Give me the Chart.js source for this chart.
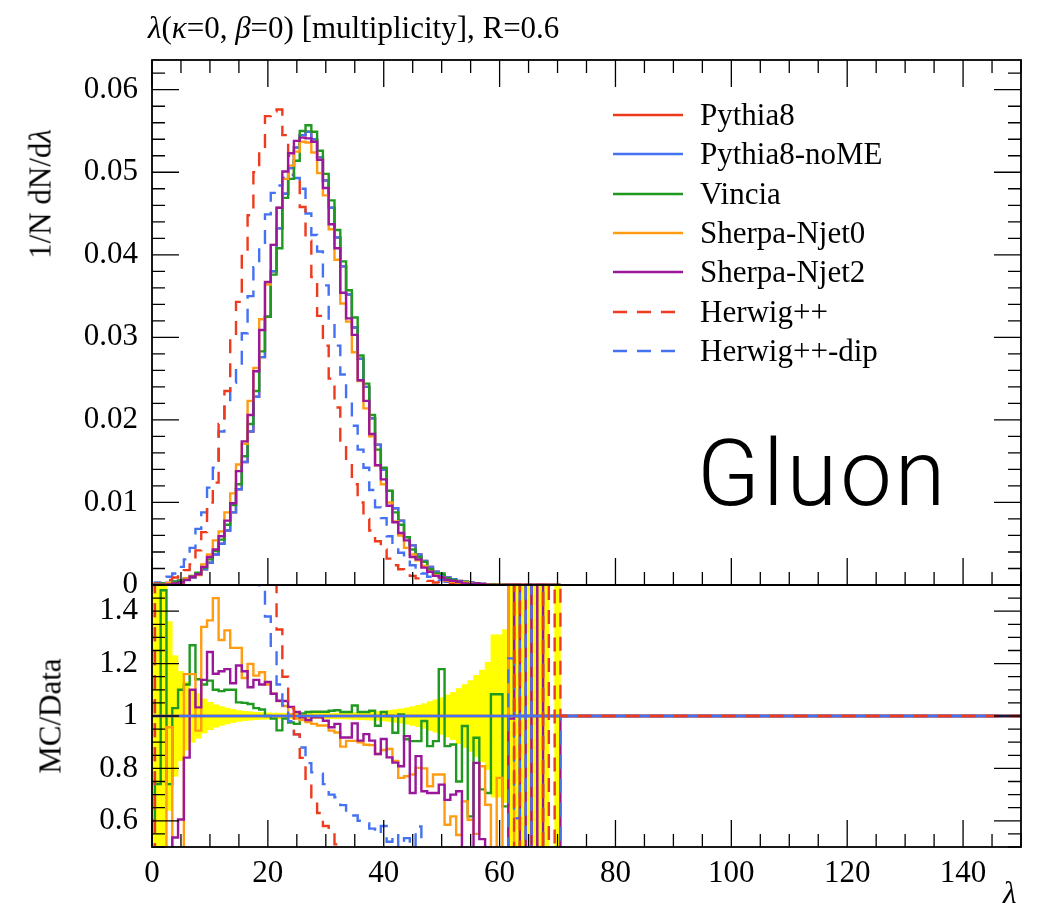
<!DOCTYPE html>
<html>
<head>
<meta charset="utf-8">
<title>Gluon multiplicity</title>
<script src="https://cdn.jsdelivr.net/npm/chart.js@4.4.1/dist/chart.umd.min.js"></script>
<style>
  body { margin: 0; background: #fff; }
  #page { position: relative; width: 1039px; height: 919px; overflow: hidden; font-family: 'Liberation Serif', serif; color: #000; }
  #page canvas { position: absolute; left: 0; top: 0; }
  .label { position: absolute; white-space: nowrap; font-size: 31px; line-height: 31px; }
  .rot { transform: translate(-50%, -50%) rotate(-90deg); }
  #gluon { font-family: Roboto, 'Liberation Sans', sans-serif; font-weight: 300; font-size: 92px; line-height: 92px; letter-spacing: 3px; }
  .legend-line { position: absolute; left: 613px; width: 70px; height: 6px; }
</style>
</head>
<body>
<div id="page">
  <canvas id="mainChart" width="1039" height="919"></canvas>
  <canvas id="ratioChart" width="1039" height="919"></canvas>
  <div class="label" style="left:148px; top:12px;"><i>λ</i>(<i>κ</i>=0, <i>β</i>=0) [multiplicity], R=0.6</div>
  <div class="label rot" style="left:40px; top:194px;">1/N dN/d<i>λ</i></div>
  <div class="label rot" style="left:50px; top:716px;">MC/Data</div>
  <div class="label" style="left:1003px; top:877px;"><i>λ</i></div>
  <div class="label" id="gluon" style="left:697px; top:428px;">Gluon</div>
  <div id="legend"></div>
</div>
<script>
// multiplicity bins of width 1, centred on 0, 1, 2, ... 70
const firstBin = 0;
const binWidth = 1;
const xMax = 150;

const seriesNames = ['Pythia8', 'Pythia8-noME', 'Vincia', 'Sherpa-Njet0', 'Sherpa-Njet2', 'Herwig++', 'Herwig++-dip'];

const mainYTicks = [0, 0.01, 0.02, 0.03, 0.04, 0.05, 0.06];
const ratioYTicks = [0.6, 0.8, 1, 1.2, 1.4];
const xTicks = [0, 20, 40, 60, 80, 100, 120, 140];

// 1/N dN/dλ per bin
const pythia8 = [
    0.00003, 0.00008, 0.00015, 0.00025, 0.0004, 0.0005, 0.0007, 0.0009, 0.0013, 0.0019,
    0.0027, 0.0037, 0.0050, 0.0066, 0.0088, 0.0116, 0.0149, 0.0186, 0.0228, 0.0276,
    0.0325, 0.0380, 0.0432, 0.0474, 0.0505, 0.0530, 0.0545, 0.0549, 0.0540, 0.0518,
    0.0490, 0.0457, 0.0421, 0.0386, 0.0352, 0.0312, 0.0274, 0.0240, 0.0202, 0.0170,
    0.0140, 0.0114, 0.0093, 0.0078, 0.0058, 0.0048, 0.0037, 0.0029, 0.0022, 0.0016,
    0.0012, 0.0009, 0.0007, 0.0005, 0.0004, 0.0003, 0.0002, 0.00015, 0.0001, 0.00008,
    0.00005, 0.00004, 0.00003, 0.00002, 0.00002, 0.00001, 0.00001, 0.00001, 0.00001, 0.00001, 0.00001
];
const pythia8NoME = [
    0.00003, 0.00008, 0.00015, 0.00025, 0.0004, 0.0005, 0.0007, 0.0009, 0.0013, 0.0019,
    0.0027, 0.0037, 0.0050, 0.0066, 0.0088, 0.0116, 0.0149, 0.0186, 0.0228, 0.0276,
    0.0325, 0.0380, 0.0432, 0.0474, 0.0505, 0.0530, 0.0545, 0.0549, 0.0540, 0.0518,
    0.0490, 0.0457, 0.0421, 0.0386, 0.0352, 0.0312, 0.0274, 0.0240, 0.0202, 0.0170,
    0.0140, 0.0114, 0.0093, 0.0078, 0.0058, 0.0048, 0.0037, 0.0029, 0.0022, 0.0016,
    0.0012, 0.0009, 0.0007, 0.0005, 0.0004, 0.0003, 0.0002, 0.00015, 0.0001, 0.00008,
    0.00005, 0.00004, 0.00003, 0.00002, 0.00002, 0.00001, 0.00001, 0.00001, 0.00001, 0.00001, 0.00001
];
const vincia = [
    0.00002, 0.00006, 0.0002, 0.0002, 0.0004, 0.00055, 0.0008, 0.0011, 0.0015, 0.0021,
    0.0031, 0.0041, 0.0055, 0.0073, 0.0097, 0.0122, 0.0156, 0.0195, 0.0235, 0.0283,
    0.0325, 0.0376, 0.0408, 0.0469, 0.0492, 0.0514, 0.0550, 0.0557, 0.0549, 0.0526,
    0.0498, 0.0466, 0.0430, 0.0392, 0.0357, 0.0324, 0.0278, 0.0244, 0.0206, 0.0164,
    0.0142, 0.0114, 0.0088, 0.0073, 0.0058, 0.0043, 0.0034, 0.0028, 0.0019, 0.0014,
    0.0014, 0.0008, 0.0006, 0.0004, 0.0004, 0.0002, 0.0002, 0.0001, 0.00007, 0.00009,
    0.00005, 0.00003, 0.00008, 0.00003, 0.00002, 0.00001, 0.00001, 0.00001, 0.00001, 0.00001, 0.00001
];
const sherpaNjet0 = [
    0.00001, 0.00002, 0.00005, 0.00024, 0.00012, 0.00015, 0.0008, 0.0010, 0.0012, 0.0025,
    0.0037, 0.0054, 0.0065, 0.0088, 0.0111, 0.0146, 0.0171, 0.0223, 0.0263, 0.0322,
    0.0364, 0.0412, 0.0457, 0.0492, 0.0508, 0.0525, 0.0537, 0.0536, 0.0524, 0.0499,
    0.0472, 0.0431, 0.0394, 0.0341, 0.0319, 0.0282, 0.0247, 0.0214, 0.0180, 0.0145,
    0.0122, 0.0100, 0.0077, 0.0060, 0.0045, 0.0037, 0.0030, 0.0023, 0.0016, 0.0012,
    0.0009, 0.0005, 0.0004, 0.0003, 0.0003, 0.0002, 0.0001, 0.0001, 0.00007, 0.00002,
    0.00004, 0.00001, 0.00008, 0.00001, 0.00005, 0.00003, 0.0, 0.00003, 0.00001, 0.00001, 0.00001
];
const sherpaNjet2 = [
    0.00001, 0.00002, 0.00005, 0.00008, 0.0002, 0.0003, 0.0006, 0.0010, 0.0013, 0.0022,
    0.0034, 0.0043, 0.0059, 0.0078, 0.0099, 0.0138, 0.0174, 0.0206, 0.0259, 0.0309,
    0.0367, 0.0412, 0.0457, 0.0501, 0.0523, 0.0538, 0.0542, 0.0541, 0.0537, 0.0515,
    0.0481, 0.0437, 0.0408, 0.0354, 0.0323, 0.0303, 0.0248, 0.0223, 0.0183, 0.0145,
    0.0128, 0.0096, 0.0076, 0.0063, 0.0054, 0.0034, 0.0031, 0.0021, 0.0016, 0.0011,
    0.0009, 0.0006, 0.0005, 0.0004, 0.0002, 0.0001, 0.0002, 0.0001, 0.00003, 0.00002,
    0.00002, 0.00001, 0.00003, 0.00005, 0.00001, 0.00003, 0.00001, 0.00003, 0.00001, 0.00001, 0.00001
];
const herwig = [
    0.0001, 0.0002, 0.0004, 0.0006, 0.0009, 0.0012, 0.0018, 0.0025, 0.0042, 0.0064,
    0.0100, 0.0124, 0.0195, 0.0235, 0.0300, 0.0343, 0.0400, 0.0448, 0.0500, 0.0528,
    0.0568, 0.0574, 0.0576, 0.0545, 0.0520, 0.0493, 0.0458, 0.0417, 0.0373, 0.0326,
    0.0290, 0.0250, 0.0215, 0.0175, 0.0150, 0.0122, 0.0100, 0.0080, 0.0066, 0.0053,
    0.0043, 0.0032, 0.0024, 0.0019, 0.0014, 0.0011, 0.0008, 0.0006, 0.0005, 0.0003,
    0.0002, 0.0002, 0.0001, 0.0001, 0.00004, 0.00006, 0.00002, 0.00003, 0.00001, 0.00002,
    0.0, 0.0, 0.0, 0.00003, 0.0, 0.0, 0.0, 0.0, 0.00003, 0.0, 0.00003
];
const herwigDip = [
    0.0001, 0.0003, 0.0006, 0.0010, 0.0014, 0.0022, 0.0031, 0.0045, 0.0068, 0.0088,
    0.0118, 0.0142, 0.0186, 0.0222, 0.0245, 0.0265, 0.0305, 0.0350, 0.0385, 0.0408,
    0.0449, 0.0475, 0.0484, 0.0493, 0.0497, 0.0493, 0.0480, 0.0450, 0.0424, 0.0404,
    0.0363, 0.0320, 0.0290, 0.0255, 0.0222, 0.0193, 0.0164, 0.0142, 0.0115, 0.0094,
    0.0081, 0.0059, 0.0051, 0.0039, 0.0031, 0.0024, 0.0021, 0.0014, 0.0010, 0.0008,
    0.0006, 0.0004, 0.0003, 0.0002, 0.0002, 0.0001, 0.00005, 0.00007, 0.00003, 0.00002,
    0.00002, 0.00001, 0.00004, 0.00001, 0.00005, 0.0, 0.00003, 0.00003, 0.0, 0.0, 0.0
];

// MC/Data per bin (data = Pythia8, so Pythia8 and Pythia8-noME sit at 1)
const vinciaRatio = [
    0.6, 0.74, 1.48, 0.74, 1.03, 1.10, 1.12, 1.27, 1.14, 1.12,
    1.135, 1.10, 1.095, 1.10, 1.10, 1.052, 1.05, 1.046, 1.03, 1.025,
    1.0, 0.99, 0.945, 0.99, 0.975, 0.97, 1.01, 1.015, 1.016, 1.016,
    1.016, 1.02, 1.022, 1.015, 1.015, 1.04, 1.015, 1.015, 1.02, 0.963,
    1.015, 1.0, 0.936, 1.006, 0.911, 0.904, 0.904, 0.981, 0.885, 0.904,
    1.179, 0.885, 0.891, 0.75, 0.962, 0.617, 0.917, 0.72, 0.706, 1.083,
    1.083, 0.655, 2.5, 1.0, 1.0, 1.0, 1.0, 1.0, 1.0, 1.0, 1.0
];
const sherpaNjet0Ratio = [
    0.3, 0.3, 0.3, 0.957, 0.3, 0.3, 1.16, 1.16, 0.944, 1.34,
    1.365, 1.45, 1.29, 1.327, 1.26, 1.26, 1.145, 1.199, 1.154, 1.167,
    1.12, 1.085, 1.057, 1.038, 1.006, 0.99, 0.985, 0.977, 0.97, 0.964,
    0.964, 0.944, 0.937, 0.883, 0.905, 0.905, 0.9, 0.89, 0.889, 0.855,
    0.87, 0.874, 0.828, 0.764, 0.77, 0.777, 0.802, 0.80, 0.732, 0.777,
    0.777, 0.585, 0.617, 0.546, 0.674, 0.604, 0.55, 0.808, 0.661, 0.3,
    0.764, 0.3, 2.5, 0.3, 2.5, 2.5, 0.3, 2.5, 1.0, 1.0, 1.0
];
const sherpaNjet2Ratio = [
    0.3, 0.3, 0.3, 0.3, 0.536, 0.605, 0.841, 1.10, 1.033, 1.138,
    1.244, 1.161, 1.171, 1.179, 1.125, 1.193, 1.171, 1.11, 1.138, 1.12,
    1.13, 1.085, 1.058, 1.057, 1.035, 1.015, 0.995, 0.985, 0.995, 0.995,
    0.982, 0.957, 0.97, 0.918, 0.918, 0.972, 0.906, 0.931, 0.906, 0.855,
    0.912, 0.842, 0.822, 0.808, 0.923, 0.706, 0.847, 0.713, 0.706, 0.706,
    0.738, 0.68, 0.70, 0.713, 0.45, 0.45, 0.821, 0.53, 0.3, 0.3,
    0.3, 0.3, 0.99, 2.5, 0.3, 2.5, 0.3, 2.5, 0.3, 0.3, 0.3
];
const herwigRatio = [
    0.3, 2.5, 2.5, 2.5, 2.5, 2.5, 2.5, 2.5, 2.5, 2.5,
    2.5, 2.5, 2.5, 2.5, 2.5, 2.5, 2.5, 2.5, 2.5, 2.5,
    2.5, 2.5, 1.33, 1.15, 1.03, 0.93, 0.84, 0.76, 0.69, 0.63,
    0.58, 0.548, 0.51, 0.45, 0.43, 0.39, 0.36, 0.33, 0.33, 0.31,
    0.31, 0.28, 0.26, 0.24, 0.24, 0.23, 0.22, 0.21, 0.23, 0.19,
    0.17, 0.22, 0.14, 0.2, 0.1, 0.2, 0.1, 0.2, 0.1, 0.2,
    0.1, 0.2, 0.1, 2.5, 0.1, 0.1, 0.1, 0.1, 2.5, 0.1, 2.5
];
const herwigDipRatio = [
    0.3, 2.5, 2.5, 2.5, 2.5, 2.5, 2.5, 2.5, 2.5, 2.5,
    2.5, 2.5, 2.5, 2.5, 2.5, 2.5, 2.5, 2.5, 2.5, 1.48,
    1.38, 1.25, 1.12, 1.04, 0.98, 0.93, 0.88, 0.82, 0.785, 0.78,
    0.74, 0.70, 0.69, 0.66, 0.63, 0.62, 0.60, 0.59, 0.57, 0.55,
    0.58, 0.52, 0.55, 0.50, 0.534, 0.50, 0.578, 0.49, 0.45, 0.49,
    0.48, 0.40, 0.42, 0.35, 0.38, 0.3, 0.3, 0.45, 0.3, 0.3,
    0.3, 0.3, 1.22, 0.61, 2.5, 0.3, 2.5, 2.5, 0.3, 0.3, 0.3
];
// half width of the data uncertainty band around 1
const dataBand = [
    1, 1, 1, 0.36, 0.23, 0.17, 0.13, 0.10, 0.085, 0.065,
    0.052, 0.043, 0.036, 0.030, 0.025, 0.021, 0.018, 0.016, 0.014, 0.013,
    0.012, 0.011, 0.011, 0.010, 0.010, 0.010, 0.010, 0.010, 0.010, 0.010,
    0.010, 0.010, 0.011, 0.011, 0.012, 0.013, 0.014, 0.015, 0.016, 0.017,
    0.019, 0.021, 0.024, 0.027, 0.031, 0.036, 0.041, 0.047, 0.055, 0.062,
    0.07, 0.08, 0.09, 0.105, 0.12, 0.135, 0.155, 0.175, 0.205, 0.31,
    0.31, 0.33, 1, 1, 1, 1, 1, 1, 1, 0, 1
];

const RED = '#ee3b1e';
const BLUE = '#4472f2';
const GREEN = '#1f991f';
const ORANGE = '#ff9c12';
const PURPLE = '#9a169a';
const YELLOW = '#ffff00';
const DASH = [14, 10];
const LINE_WIDTH = 2.4;
const seriesStyles = [
    { color: RED, dash: [] },
    { color: BLUE, dash: [] },
    { color: GREEN, dash: [] },
    { color: ORANGE, dash: [] },
    { color: PURPLE, dash: [] },
    { color: RED, dash: DASH },
    { color: BLUE, dash: DASH }
];
const FONT = { family: "'Liberation Serif', serif", size: 31 };

// left bin edges, plus closing edge of the last bin
function histPoints(values) {
    const pts = values.map((v, i) => ({ x: firstBin + (i - 0.5) * binWidth, y: v }));
    pts.push({ x: firstBin + (values.length - 0.5) * binWidth, y: values[values.length - 1] });
    return pts;
}

// empty bins beyond the last one are drawn at 1
function ratioPoints(values) {
    const pts = values.map((v, i) => ({ x: firstBin + (i - 0.5) * binWidth, y: v }));
    pts.push({ x: firstBin + (values.length - 0.5) * binWidth, y: 1 });
    pts.push({ x: xMax, y: 1 });
    return pts;
}

function lineSet(idx, points) {
    const s = seriesStyles[idx];
    return {
        label: seriesNames[idx],
        data: points,
        borderColor: s.color,
        borderDash: s.dash,
        borderWidth: LINE_WIDTH,
        pointRadius: 0,
        fill: false,
        stepped: 'before'
    };
}

const frameAndTicks = {
    id: 'frameAndTicks',
    afterDatasetsDraw(chart, args, opts) {
        const { ctx, chartArea: area } = chart;
        const x = chart.scales.x;
        const y = chart.scales.y;
        ctx.save();
        ctx.strokeStyle = '#000';
        ctx.lineWidth = 1.3;
        ctx.beginPath();
        for (let k = 0; k * 5 <= x.max; k++) {
            const px = x.getPixelForValue(k * 5);
            const len = k % 4 === 0 ? 27 : 13;
            ctx.moveTo(px, area.bottom);
            ctx.lineTo(px, area.bottom - len);
            if (opts.topTicks) {
                ctx.moveTo(px, area.top);
                ctx.lineTo(px, area.top + len);
            }
        }
        for (let k = 0; ; k++) {
            const v = opts.yFrom + k * opts.yStep;
            if (v > y.max + 1e-9) break;
            const py = y.getPixelForValue(v);
            const len = k % opts.yMajorEvery === opts.yMajorOffset ? 27 : 13;
            ctx.moveTo(area.left, py);
            ctx.lineTo(area.left + len, py);
            ctx.moveTo(area.right, py);
            ctx.lineTo(area.right - len, py);
        }
        ctx.stroke();
        ctx.lineWidth = 1.8;
        ctx.strokeRect(area.left, area.top, area.right - area.left, area.bottom - area.top);
        ctx.restore();
    }
};

function yAxis(min, max, tickValues, fmt) {
    return {
        min: min,
        max: max,
        afterFit: (scale) => { scale.width = 152; },
        afterBuildTicks: (scale) => { scale.ticks = tickValues.map(v => ({ value: v })); },
        grid: { display: false, drawTicks: false },
        border: { display: false },
        ticks: { padding: 14, color: '#000', font: FONT, callback: fmt }
    };
}

function createMainChart() {
    const canvas = document.getElementById('mainChart');
    // first dataset is drawn on top
    const datasets = [
        lineSet(4, histPoints(sherpaNjet2)),
        lineSet(3, histPoints(sherpaNjet0)),
        lineSet(2, histPoints(vincia)),
        lineSet(1, histPoints(pythia8NoME)),
        lineSet(0, histPoints(pythia8)),
        lineSet(5, histPoints(herwig)),
        lineSet(6, histPoints(herwigDip))
    ];
    new Chart(canvas, {
        type: 'line',
        data: { datasets: datasets },
        options: {
            responsive: false,
            animation: false,
            devicePixelRatio: 1,
            layout: { padding: { top: 60, right: 18, bottom: 334, left: 0 } },
            plugins: {
                legend: { display: false },
                tooltip: { enabled: false },
                frameAndTicks: { topTicks: true, yFrom: 0, yStep: 0.002, yMajorEvery: 5, yMajorOffset: 0 }
            },
            scales: {
                x: { type: 'linear', display: false, min: 0, max: xMax, offset: false },
                y: yAxis(0, 0.0636, mainYTicks, (v) => (v === 0 ? '0' : v.toFixed(2)))
            }
        },
        plugins: [frameAndTicks]
    });
}

function createRatioChart() {
    const canvas = document.getElementById('ratioChart');
    const band = {
        type: 'bar',
        label: 'data',
        data: dataBand.map((e, i) => ({ x: firstBin + i * binWidth, y: [1 - e, 1 + e] })),
        backgroundColor: YELLOW,
        borderWidth: 0,
        barPercentage: 1,
        categoryPercentage: 1,
        clip: 0
    };
    const unity = [{ x: 0, y: 1 }, { x: xMax, y: 1 }];
    const datasets = [
        lineSet(5, ratioPoints(herwigRatio)),
        lineSet(6, ratioPoints(herwigDipRatio)),
        lineSet(1, unity),
        lineSet(0, unity),
        lineSet(4, ratioPoints(sherpaNjet2Ratio)),
        lineSet(3, ratioPoints(sherpaNjet0Ratio)),
        lineSet(2, ratioPoints(vinciaRatio)),
        band
    ];
    new Chart(canvas, {
        type: 'line',
        data: { datasets: datasets },
        options: {
            responsive: false,
            animation: false,
            devicePixelRatio: 1,
            layout: { padding: { top: 585, right: 18, bottom: 0, left: 0 } },
            plugins: {
                legend: { display: false },
                tooltip: { enabled: false },
                frameAndTicks: { topTicks: false, yFrom: 0.5, yStep: 0.05, yMajorEvery: 4, yMajorOffset: 2 }
            },
            scales: {
                x: {
                    type: 'linear',
                    min: 0,
                    max: xMax,
                    offset: false,
                    afterFit: (scale) => { scale.height = 72; },
                    afterBuildTicks: (scale) => { scale.ticks = xTicks.map(v => ({ value: v })); },
                    grid: { display: false, drawTicks: false },
                    border: { display: false },
                    ticks: { padding: 8, maxRotation: 0, autoSkip: false, color: '#000', font: FONT }
                },
                y: yAxis(0.5, 1.5, ratioYTicks, (v) => (Math.abs(v - 1) < 1e-6 ? '1' : v.toFixed(1)))
            }
        },
        plugins: [frameAndTicks]
    });
}

function createLegend() {
    const box = document.getElementById('legend');
    seriesNames.forEach((name, i) => {
        const rowY = 115 + i * 39.3;
        const s = seriesStyles[i];
        const svg = document.createElementNS('http://www.w3.org/2000/svg', 'svg');
        svg.setAttribute('class', 'legend-line');
        svg.setAttribute('width', '70');
        svg.setAttribute('height', '6');
        svg.style.top = (rowY - 3) + 'px';
        const line = document.createElementNS('http://www.w3.org/2000/svg', 'line');
        line.setAttribute('x1', '0');
        line.setAttribute('x2', '70');
        line.setAttribute('y1', '3');
        line.setAttribute('y2', '3');
        line.setAttribute('stroke', s.color);
        line.setAttribute('stroke-width', String(LINE_WIDTH));
        if (s.dash.length) line.setAttribute('stroke-dasharray', s.dash.join(' '));
        svg.appendChild(line);
        box.appendChild(svg);
        const text = document.createElement('div');
        text.className = 'label';
        text.style.left = '700px';
        text.style.top = (rowY - 16) + 'px';
        text.textContent = name;
        box.appendChild(text);
    });
}

try {
    createMainChart();
    createRatioChart();
    createLegend();
} catch (error) {
    console.error('Failed to create chart:', error);
}
</script>
</body>
</html>
